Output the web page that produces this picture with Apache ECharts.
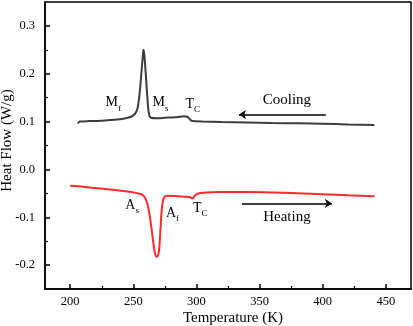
<!DOCTYPE html>
<html>
<head>
<meta charset="utf-8">
<script src="https://cdn.jsdelivr.net/npm/echarts@6/dist/echarts.min.js"></script>
<style>
  html, body { margin: 0; padding: 0; background: #fff; }
  #chart { width: 413px; height: 326px; }
</style>
</head>
<body>
<div id="chart"></div>
<script>
// cooling curve (dark) - temperature (K) / heat flow (W/g)
const coolingT = [206, 207.5, 215, 225, 235, 242, 247, 250, 252, 253.5, 255, 256.5, 257.5, 258, 258.7, 259.7, 260.7, 261.7, 262.7, 264, 268, 275, 283, 290, 293, 295, 297, 305, 320, 340, 360, 382, 400, 420, 441];
const coolingHF = [0.096, 0.100, 0.101, 0.102, 0.104, 0.106, 0.109, 0.113, 0.119, 0.130, 0.160, 0.205, 0.238, 0.250, 0.240, 0.205, 0.165, 0.130, 0.112, 0.108, 0.107, 0.108, 0.109, 0.111, 0.110, 0.104, 0.101, 0.100, 0.099, 0.098, 0.097, 0.0965, 0.0955, 0.094, 0.093];

// heating curve (red)
const heatingT = [200, 210, 220, 232, 242, 250, 255, 258, 260, 261.5, 263, 264.5, 266, 267.2, 268.5, 269.8, 270.7, 271.5, 272.3, 273.3, 274.5, 276.5, 285, 292, 295, 297, 298.5, 300, 305, 318, 340, 360, 380, 400, 420, 441];
const heatingHF = [-0.034, -0.036, -0.039, -0.042, -0.045, -0.048, -0.051, -0.055, -0.063, -0.076, -0.097, -0.126, -0.157, -0.176, -0.183, -0.178, -0.160, -0.125, -0.090, -0.068, -0.058, -0.055, -0.056, -0.057, -0.058, -0.061, -0.056, -0.052, -0.049, -0.047, -0.047, -0.048, -0.050, -0.052, -0.054, -0.056];

// ticks
const xTicks = [200, 250, 300, 350, 400, 450];
const xMinor = [225, 275, 325, 375, 425];
const yTicks = [-0.2, -0.1, 0.0, 0.1, 0.2, 0.3];
const yMinor = [-0.15, -0.05, 0.05, 0.15, 0.25];

const font = 'Liberation Serif, Times New Roman, serif';
const zip = (a, b) => a.map((v, i) => [v, b[i]]);

// label text with subscript
const rich = {
  m: { fontFamily: font, fontSize: 14, color: '#000', verticalAlign: 'top', lineHeight: 16 },
  s: { fontFamily: font, fontSize: 9, color: '#000', verticalAlign: 'top', lineHeight: 16, padding: [8, 0, 0, 0] },
  big: { fontFamily: font, fontSize: 15, color: '#000' }
};
const note = (text, coord) => ({
  coord: coord,
  symbol: 'rect',
  symbolSize: 1,
  itemStyle: { color: 'rgba(0,0,0,0)' },
  label: { show: true, position: 'inside', formatter: text, rich: rich }
});
const arrow = (from, to) => [{ coord: from }, { coord: to }];

const chart = echarts.init(document.getElementById('chart'));

chart.setOption({
  animation: false,
  grid: {
    left: 45, right: 2, top: 2, bottom: 37,
    containLabel: false, outerBoundsMode: 'none',
    show: true, borderColor: '#000', borderWidth: 1.5
  },
  xAxis: [{
    type: 'value', min: 180, max: 470,
    name: 'Temperature (K)', nameLocation: 'middle', nameGap: 22, nameMoveOverlap: false,
    nameTextStyle: { fontFamily: font, fontSize: 15, color: '#000', padding: [0, 0, 0, 10] },
    axisLine: { onZero: false, lineStyle: { color: '#000', width: 1.5 } },
    axisTick: { inside: true, length: 5, customValues: xTicks, lineStyle: { color: '#000', width: 1.5 } },
    axisLabel: { customValues: xTicks, margin: 6, fontFamily: font, fontSize: 12.5, color: '#000' },
    splitLine: { show: false }
  }, {
    type: 'value', min: 180, max: 470, position: 'bottom',
    axisLine: { show: false, onZero: false },
    axisTick: { inside: true, length: 3, customValues: xMinor, lineStyle: { color: '#000', width: 1.2 } },
    axisLabel: { show: false },
    splitLine: { show: false }
  }],
  yAxis: [{
    type: 'value', min: -0.25, max: 0.35,
    name: 'Heat Flow (W/g)', nameLocation: 'middle', nameGap: 30, nameMoveOverlap: false,
    nameTextStyle: { fontFamily: font, fontSize: 15, color: '#000', padding: [0, 0, 0, 10] },
    axisLine: { onZero: false, lineStyle: { color: '#000', width: 1.5 } },
    axisTick: { inside: true, length: 5, customValues: yTicks, lineStyle: { color: '#000', width: 1.5 } },
    axisLabel: { customValues: yTicks, margin: 10, fontFamily: font, fontSize: 12.5, color: '#000',
      formatter: v => v.toFixed(1) },
    splitLine: { show: false }
  }, {
    type: 'value', min: -0.25, max: 0.35, position: 'left',
    axisLine: { show: false, onZero: false },
    axisTick: { inside: true, length: 3, customValues: yMinor, lineStyle: { color: '#000', width: 1.2 } },
    axisLabel: { show: false },
    splitLine: { show: false }
  }],
  series: [{
    name: 'Cooling', type: 'line', data: zip(coolingT, coolingHF),
    showSymbol: false, smooth: 0.2,
    lineStyle: { color: '#3c3c3c', width: 2 },
    markPoint: {
      silent: true,
      data: [
        note('{m|M}{s|f}', [234, 0.1375]),
        note('{m|M}{s|s}', [271.5, 0.1375]),
        note('{m|T}{s|C}', [297, 0.134]),
        note('{big|Cooling}', [371.7, 0.146])
      ]
    },
    markLine: {
      silent: true, symbol: ['none', 'arrow'], symbolSize: 7,
      label: { show: false },
      lineStyle: { color: '#000', width: 1.5, type: 'solid' },
      itemStyle: { color: '#000' },
      data: [arrow([402.5, 0.1146], [333.7, 0.1146])]
    }
  }, {
    name: 'Heating', type: 'line', data: zip(heatingT, heatingHF),
    showSymbol: false, smooth: 0.2,
    lineStyle: { color: '#ff2a2a', width: 2 },
    markPoint: {
      silent: true,
      data: [
        note('{m|A}{s|s}', [249, -0.077]),
        note('{m|A}{s|f}', [281, -0.094]),
        note('{m|T}{s|C}', [303, -0.084]),
        note('{big|Heating}', [371.7, -0.100])
      ]
    },
    markLine: {
      silent: true, symbol: ['none', 'arrow'], symbolSize: 7,
      label: { show: false },
      lineStyle: { color: '#000', width: 1.5, type: 'solid' },
      itemStyle: { color: '#000' },
      data: [arrow([336, -0.071], [407.3, -0.071])]
    }
  }]
});

window.addEventListener('resize', () => {
  chart.resize();
});
</script>
</body>
</html>
